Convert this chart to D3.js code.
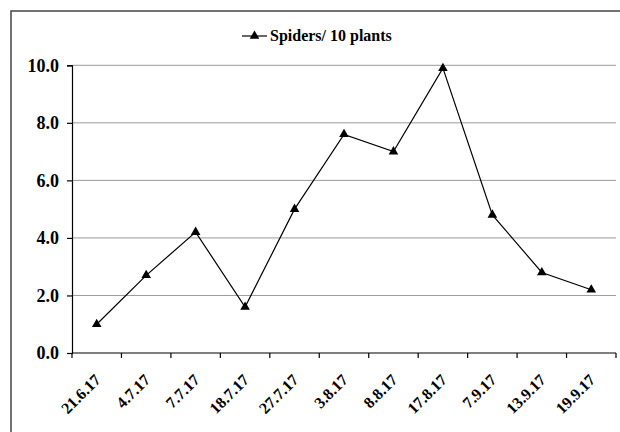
<!DOCTYPE html>
<html>
<head>
<meta charset="utf-8">
<script src="https://cdn.jsdelivr.net/npm/d3@7"></script>
<style>
  html, body { margin: 0; padding: 0; background: #fff; }
  svg { display: block; }
</style>
</head>
<body>
<svg id="chart" width="620" height="432"></svg>
<script>
const categories = ["21.6.17", "4.7.17", "7.7.17", "18.7.17", "27.7.17", "3.8.17", "8.8.17", "17.8.17", "7.9.17", "13.9.17", "19.9.17"];
const spiders = [1.0, 2.7, 4.2, 1.6, 5.0, 7.6, 7.0, 9.9, 4.8, 2.8, 2.2];
const yTicks = [0, 2, 4, 6, 8, 10];
const seriesName = "Spiders/ 10 plants";

const FONT = "Liberation Serif";
const svg = d3.select("#chart");
const margin = { left: 72, right: 616, top: 65.3, bottom: 353 };

// outer frame (only top and left visible)
svg.append("rect")
  .attr("x", 11).attr("y", 11)
  .attr("width", 640).attr("height", 460)
  .attr("fill", "none").attr("stroke", "#444").attr("stroke-width", 1.5);

const x = d3.scaleBand().domain(categories).range([margin.left, margin.right]).padding(0);
const y = d3.scaleLinear().domain([0, 10]).range([margin.bottom, margin.top]);

// gridlines
svg.append("g")
  .selectAll("line")
  .data(yTicks.filter(d => d > 0))
  .join("line")
  .attr("x1", margin.left).attr("x2", margin.right)
  .attr("y1", d => y(d)).attr("y2", d => y(d))
  .attr("stroke", "#9a9a9a").attr("stroke-width", 1);

// y axis
const yAxis = svg.append("g")
  .attr("transform", `translate(${margin.left},0)`)
  .call(d3.axisLeft(y).tickValues(yTicks).tickFormat(d3.format(".1f")).tickSize(5).tickPadding(8))
  .attr("font-family", FONT).attr("font-size", 18).attr("font-weight", "bold");
yAxis.selectAll("text").attr("fill", "#000");
yAxis.select(".domain").attr("stroke", "#000").attr("stroke-width", 1.2);
yAxis.selectAll(".tick line").attr("stroke", "#000").attr("stroke-width", 1.2);

// x axis with ticks at band boundaries
const xAxisG = svg.append("g").attr("transform", `translate(0,${margin.bottom})`)
  .attr("font-family", FONT).attr("font-size", 16).attr("font-weight", "bold");
xAxisG.append("line")
  .attr("x1", margin.left).attr("x2", margin.right)
  .attr("stroke", "#000").attr("stroke-width", 1.2);
const boundaries = categories.map(c => x(c)).concat([margin.right]);
xAxisG.selectAll(".xt")
  .data(boundaries)
  .join("line")
  .attr("class", "xt")
  .attr("x1", d => d).attr("x2", d => d)
  .attr("y1", 0).attr("y2", 5)
  .attr("stroke", "#000").attr("stroke-width", 1.2);
xAxisG.selectAll(".xl")
  .data(categories)
  .join("text")
  .attr("class", "xl")
  .attr("text-anchor", "end")
  .attr("fill", "#000")
  .attr("transform", d => `translate(${x(d) + x.bandwidth() / 2 - 3},${20}) rotate(-45)`)
  .attr("dy", "0.7em")
  .text(d => d);

// line
const cx = d => x(d) + x.bandwidth() / 2;
const line = d3.line()
  .x((d, i) => cx(categories[i]))
  .y(d => y(d));
svg.append("path")
  .datum(spiders)
  .attr("d", line)
  .attr("fill", "none")
  .attr("stroke", "#000")
  .attr("stroke-width", 1.2);

// markers
const tri = d3.symbol().type(d3.symbolTriangle).size(40);
svg.append("g")
  .selectAll("path")
  .data(spiders)
  .join("path")
  .attr("d", tri)
  .attr("transform", (d, i) => `translate(${cx(categories[i])},${y(d)})`)
  .attr("fill", "#000");

// legend
const lg = svg.append("g").attr("transform", "translate(242,36)");
lg.append("line").attr("x1", 0).attr("x2", 25).attr("y1", 0).attr("y2", 0)
  .attr("stroke", "#000").attr("stroke-width", 1.2);
lg.append("path").attr("d", tri).attr("transform", "translate(12.5,0)").attr("fill", "#000");
lg.append("text").attr("x", 28).attr("y", 0).attr("dy", "0.33em")
  .attr("font-family", FONT).attr("font-weight", "bold").attr("font-size", 16)
  .attr("fill", "#000")
  .text(seriesName);
</script>
</body>
</html>
